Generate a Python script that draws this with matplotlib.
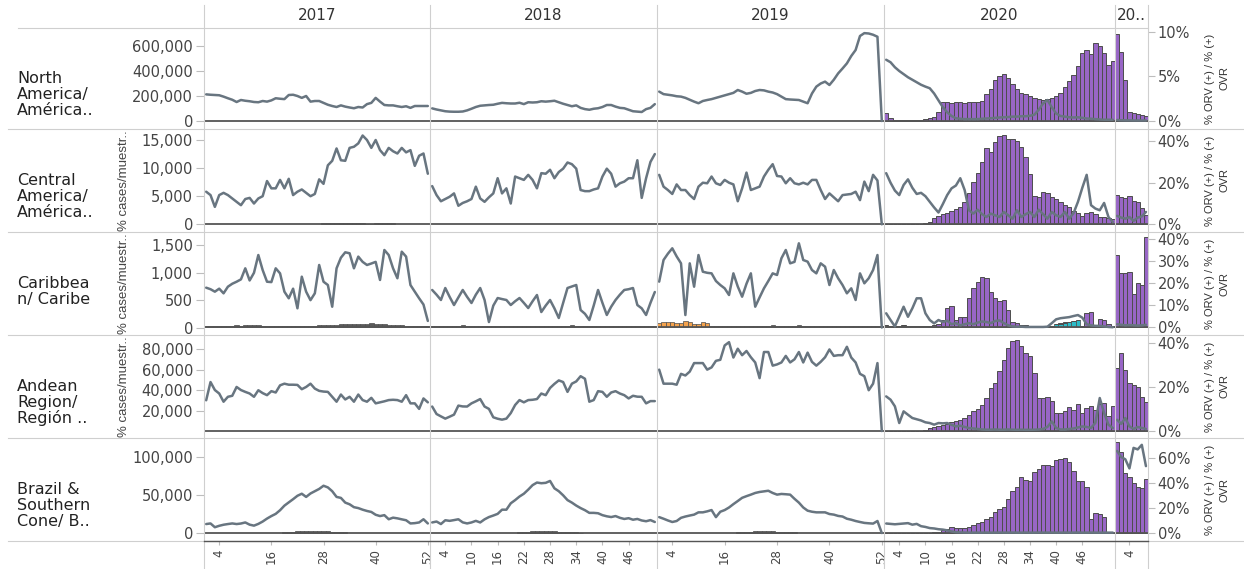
import numpy as np
import matplotlib
matplotlib.use("Agg")
import matplotlib.pyplot as plt
from matplotlib.lines import Line2D
from matplotlib import font_manager

W, H = 1244, 569

YEARS = [2017, 2018, 2019, 2020, 2021]
YEAR_HEADERS = ["2017", "2018", "2019", "2020", "20.."]
REGIONS = ["North\nAmerica/\nAmérica..", "Central\nAmerica/\nAmérica..",
           "Caribbea\nn/ Caribe", "Andean\nRegion/\nRegión ..",
           "Brazil &\nSouthern\nCone/ B.."]
LEFT_TITLE = "% cases/muestr.."
RIGHT_TITLE = "% ORV (+) / % (+)\nOVR"

# weekly line values (left axis); thousands except the Caribbean
north_line_k = {
    2017: [213, 210, 208, 206, 195, 182, 170, 152, 168, 162, 158, 152, 150, 160, 155, 165, 182, 178, 175, 208,
           210, 200, 185, 200, 155, 160, 160, 145, 130, 120, 112, 125, 115, 108, 102, 112, 108, 135, 145, 185,
           155, 128, 125, 125, 118, 112, 118, 105, 120, 120, 120, 120],
    2018: [101, 92, 85, 78, 75, 74, 74, 76, 85, 98, 112, 122, 125, 128, 130, 138, 145, 142, 140, 140,
           146, 135, 150, 148, 150, 158, 155, 158, 162, 150, 138, 128, 118, 125, 105, 95, 90, 98, 102, 112,
           128, 128, 115, 105, 102, 90, 78, 75, 72, 95, 105, 135],
    2019: [235, 215, 210, 205, 198, 195, 185, 170, 155, 142, 160, 168, 175, 185, 195, 205, 215, 225, 248, 235,
           218, 225, 240, 248, 245, 235, 228, 215, 195, 175, 172, 170, 168, 155, 142, 220, 275, 300, 315, 288,
           330, 381, 420, 461, 520, 568, 680, 703, 700, 690, 674, 0],
    2020: [490, 470, 430, 400, 375, 350, 330, 310, 290, 275, 262, 220, 165, 110, 70, 40, 22, 18, 15, 15,
           15, 15, 18, 20, 22, 25, 28, 30, 32, 35, 35, 38, 38, 42, 50, 90, 140, 168, 110, 60,
           40, 35, 30, 28, 30, 25, 20, 18, 15, 12, 10, 10, 10],
    2021: [8, 6, 5, 5, 4, 4, 4, 4],
}
central_line_k = {
    2017: [5.8, 5.2, 3.1, 5.2, 5.6, 5.2, 4.6, 4.0, 3.4, 4.5, 4.7, 3.7, 4.6, 5.0, 7.7, 6.4, 6.4, 7.9, 6.4, 8.1,
           5.2, 5.8, 6.2, 5.6, 5.0, 5.4, 8.0, 7.2, 10.5, 11.3, 13.5, 11.4, 11.3, 13.6, 13.8, 14.4, 15.8, 15.0, 13.6, 15.0,
           13.2, 12.3, 13.6, 13.0, 12.6, 13.6, 12.8, 13.2, 10.4, 12.2, 12.6, 9.0],
    2018: [6.8, 5.2, 4.1, 4.5, 4.9, 5.5, 3.3, 3.8, 4.1, 4.5, 6.7, 4.6, 4.0, 4.8, 5.5, 8.2, 5.5, 6.4, 3.7, 8.5,
           8.2, 7.9, 8.8, 7.9, 6.4, 9.1, 9.0, 9.7, 8.2, 9.3, 9.9, 11.0, 10.7, 9.9, 6.1, 5.9, 5.9, 6.2, 6.4, 8.5,
           9.9, 9.0, 6.7, 7.3, 7.6, 8.2, 8.2, 11.4, 4.7, 8.2, 11.1, 12.5],
    2019: [8.8, 6.7, 6.1, 5.4, 7.1, 6.1, 6.1, 5.2, 4.5, 6.7, 7.4, 7.3, 8.5, 7.3, 7.0, 7.9, 7.4, 7.1, 4.1, 6.4,
           9.2, 6.1, 6.4, 6.7, 8.5, 9.7, 10.7, 8.6, 8.5, 7.3, 8.2, 7.3, 7.1, 7.4, 7.1, 7.9, 7.9, 6.1, 4.5, 5.5,
           4.8, 4.1, 5.2, 5.3, 5.4, 5.8, 4.3, 7.6, 5.9, 8.8, 7.8, 0],
    2020: [9.1, 7.4, 6.0, 5.2, 7.0, 8.0, 6.5, 5.4, 5.6, 5.0, 4.0, 3.0, 2.1, 3.6, 5.2, 6.4, 6.9, 8.2, 6.1, 2.5,
           1.9, 2.6, 1.8, 1.3, 1.9, 1.6, 1.3, 2.2, 1.6, 1.0, 2.5, 1.3, 1.8, 2.2, 1.3, 2.6, 1.8, 1.0, 2.2, 1.6,
           1.3, 2.2, 1.0, 2.0, 4.0, 6.5, 8.8, 3.4, 2.8, 2.5, 3.8, 1.3, 0.4],
    2021: [1.5, 1.2, 1.0, 1.3, 0.6, 1.2, 1.4, 2.2],
}
caribbean_line = {
    2017: [728, 700, 655, 710, 625, 746, 800, 837, 880, 1082, 860, 1000, 1325, 1050, 837, 830, 1082, 990, 655, 534,
           710, 351, 929, 655, 500, 625, 1143, 837, 777, 380, 1082, 1276, 1375, 1357, 1082, 1296, 1200, 1143, 1170, 1200,
           869, 1417, 1325, 1082, 900, 1386, 1296, 777, 655, 534, 420, 120],
    2018: [686, 600, 503, 722, 560, 411, 550, 686, 560, 448, 600, 722, 503, 100, 400, 539, 520, 503, 411, 480,
           539, 450, 356, 480, 594, 283, 400, 503, 350, 174, 450, 722, 750, 777, 320, 250, 137, 400, 686, 450,
           229, 380, 503, 600, 686, 700, 722, 411, 350, 229, 450, 649],
    2019: [838, 1234, 1350, 1448, 1300, 1173, 228, 1173, 746, 1325, 1020, 1000, 990, 850, 777, 716, 594, 990, 750, 563,
           800, 990, 380, 550, 716, 850, 990, 960, 1265, 1417, 1173, 1200, 1539, 1234, 1204, 1051, 990, 1173, 1112, 777,
           1051, 900, 777, 625, 716, 503, 990, 808, 900, 1051, 1325, 0],
    2020: [260, 137, 20, 200, 380, 196, 350, 534, 534, 260, 137, 75, 137, 100, 125, 60, 80, 40, 60, 80,
           60, 90, 110, 100, 80, 120, 130, 80, 40, 20, 15, 15, 10, 10, 10, 10, 10, 15, 80, 150,
           170, 180, 190, 210, 228, 180, 60, 40, 30, 30, 20, 10, 5],
    2021: [60, 50, 40, 45, 40, 35, 40, 50],
}
andean_line_k = {
    2017: [30, 47.8, 40, 36.6, 28.6, 33.4, 34.4, 43, 40, 38.2, 36.6, 33.4, 39.8, 37, 35, 38.9, 37.6, 44.6, 46.2, 45.2,
           45.2, 45, 40.8, 43, 46.2, 41.4, 39.2, 38.5, 38.2, 33.4, 28.6, 35.6, 30.8, 33.4, 28.6, 35.6, 30.2, 28.6, 32.4, 27,
           28, 29, 30.2, 30.5, 30.2, 28.6, 35, 27, 27, 21.6, 31.8, 28],
    2018: [23.9, 16.6, 14.3, 12.1, 14, 16, 24.8, 24, 23.9, 27, 29, 31.2, 23.9, 21.6, 13.4, 12, 11.1, 12.1, 17.5, 25.4,
           30.2, 28, 30.2, 30.5, 31.2, 36.6, 35, 42, 46, 49.4, 47.8, 38.2, 46.2, 48.4, 53.5, 51, 28.6, 30.2, 38.9, 38.2,
           33.4, 37.6, 38.9, 36.6, 35, 31.8, 34.4, 33.5, 33.4, 27, 29.2, 29.2],
    2019: [59.9, 46.2, 46.2, 46.2, 45.2, 55.8, 54.2, 58, 66.3, 66.3, 66.3, 59.9, 62.1, 68.5, 69.5, 83.5, 86.7, 71.7, 80.3, 74,
           78.1, 72, 66.9, 51.6, 77.1, 77.1, 63.8, 65, 66.9, 73.3, 66.9, 70, 77.1, 66.9, 76.5, 67.5, 63.8, 67.5, 72, 79.6,
           73.3, 74, 74, 82.2, 71.7, 66.9, 55.8, 53.5, 39.8, 46.2, 66.3, 0],
    2020: [33.8, 30.6, 24.1, 7.8, 19.2, 15.9, 12.7, 11.5, 10.3, 8.5, 7.8, 6.2, 7.8, 7.5, 7.8, 6.0, 4.5, 5.2, 4.0, 2.9,
           2.5, 2.0, 1.5, 1.3, 1.3, 1.5, 1.3, 1.3, 1.5, 1.3, 1.2, 1.3, 1.2, 1.2, 1.3, 1.5, 2.0, 4.0, 9.4, 3.0,
           1.5, 1.5, 2.0, 2.5, 3.5, 4.5, 4.0, 3.0, 8.0, 32.2, 17.6, 6.2, 2.9],
    2021: [11, 7, 12.7, 4.5, 2, 4, 3, 2],
}
brazil_line_k = {
    2017: [11.8, 12.6, 7.6, 9.5, 10.9, 11.8, 12.6, 11.8, 12.5, 13.9, 11.0, 9.7, 12.0, 15.1, 19.0, 22.3, 25.2, 30.0, 36.0, 40.3,
           44.5, 49.0, 51.7, 47.5, 52.0, 55.0, 58.0, 62.2, 60.0, 55.0, 47.5, 46.2, 40.0, 37.8, 34.0, 32.8, 30.7, 29.0, 27.7, 24.0,
           22.3, 23.5, 18.1, 20.2, 19.3, 18.0, 16.8, 12.6, 13.0, 13.9, 18.1, 12.6],
    2018: [13.9, 15.1, 11.8, 16.8, 16.0, 17.0, 18.1, 14.0, 12.6, 13.9, 16.0, 13.9, 18.0, 21.0, 23.0, 25.2, 30.7, 30.7, 39.1, 43.3,
           48.0, 51.7, 57.1, 63.0, 66.4, 65.5, 66.0, 68.5, 58.8, 55.0, 49.6, 43.3, 40.0, 36.1, 32.8, 30.0, 26.5, 26.5, 26.0, 23.5,
           22.0, 21.0, 22.3, 20.0, 18.5, 19.5, 17.5, 18.5, 16.5, 15.5, 17.0, 14.5],
    2019: [20.9, 18.8, 16.5, 14.5, 15.8, 20.0, 21.7, 23.0, 24.2, 27.2, 27.2, 28.5, 30.2, 20.9, 28.0, 30.2, 33.6, 38.0, 42.1, 46.3,
           48.5, 50.5, 52.7, 54.0, 54.8, 55.6, 52.7, 50.5, 51.4, 51.0, 50.5, 45.0, 40.0, 33.6, 29.4, 28.0, 27.2, 27.2, 27.2, 25.0,
           24.2, 22.5, 21.7, 18.8, 17.5, 15.8, 14.5, 13.3, 12.8, 12.4, 15.8, 0],
    2020: [12.5, 12.0, 11.5, 12.0, 12.5, 13.0, 11.0, 12.0, 9.0, 8.0, 6.5, 6.0, 5.0, 4.5, 3.5, 2.0, 1.0, 0.8, 0.6, 0.5,
           0.5, 0.5, 0.5, 0.6, 0.5, 0.5, 0.6, 0.5, 0.5, 0.6, 0.5, 0.5, 0.6, 0.5, 0.5, 0.6, 0.5, 0.5, 0.6, 0.5,
           0.5, 0.6, 0.5, 0.5, 0.6, 0.5, 0.5, 0.6, 0.5, 0.5, 0.5, 0.5, 0.5],
    2021: [108, 100, 97, 85, 112, 110, 116, 88],
}

# weekly % positive bars (right axis), purple series
north_covid = {
    2020: [0.9, 0.3, 0.1, 0.1, 0.1, 0.1, 0.1, 0.1, 0.1, 0.2, 0.3, 0.5, 1.0, 2.1, 2.1, 2.0, 2.1, 2.1, 2.0, 2.1,
           2.1, 2.1, 2.3, 3.0, 3.6, 4.6, 5.0, 5.3, 4.8, 4.2, 3.6, 3.2, 3.0, 2.8, 2.6, 2.5, 2.4, 2.5, 2.6, 2.8,
           3.2, 3.8, 4.5, 5.2, 6.2, 7.6, 8.0, 7.5, 8.8, 8.4, 7.6, 6.3, 6.7],
    2021: [9.8, 7.8, 4.6, 1.0, 0.9, 0.8, 0.7, 0.6],
}
central_covid = {
    2020: [0, 0, 0, 0, 0, 0, 0, 0, 0, 0.3, 1.1, 2.7, 3.9, 4.7, 5.5, 6.4, 7.1, 8.0, 10.8,
           14.8, 20.4, 24.4, 30.0, 36.5, 34.9, 39.7, 42.4, 42.9, 40.8, 40.8, 40.2, 37.3, 32.5, 24.0, 13.5, 12.9, 15.6, 15.1, 13.2,
           11.9, 10.8, 9.2, 8.0, 6.4, 5.1, 3.9, 5.5, 6.0, 4.8, 3.5, 3.5, 3.0, 2.5],
    2021: [13.8, 13.0, 12.5, 13.5, 11.0, 10.8, 7.6, 4.3],
}
caribbean_covid = {
    2020: [0, 0, 0, 0, 0, 0, 0, 0, 0, 0, 0.5, 1.0, 1.5, 3.2, 8.5, 9.5, 3.2, 4.4, 4.4, 13.0,
           17.6, 20.6, 22.9, 22.1, 16.1, 13.0, 12.0, 12.4, 7.6, 2.4, 1.7, 0.9, 0.8, 0.6, 0.5, 0.5, 0.5, 0.5, 0.5, 0.4,
           0.3, 0.3, 0.3, 0.3, 0.3, 0.3, 6.5, 7.0, 0.9, 3.5, 3.2, 1.4, 0.5],
    2021: [32.7, 24.7, 24.4, 25.0, 15.2, 20.0, 19.0, 41.0],
}
andean_covid = {
    2020: [0, 0, 0, 0, 0, 0, 0, 0, 0, 0.5, 1.4, 1.8, 2.1, 2.7, 3.3, 3.9, 4.4, 5.2, 5.9,
           7.4, 8.9, 10.0, 12.0, 15.0, 19.5, 21.8, 27.1, 32.4, 37.7, 40.7, 41.2, 38.5, 35.5, 33.9, 26.4, 15.0, 15.0, 15.5, 13.5,
           8.2, 8.2, 8.9, 10.9, 9.7, 12.4, 8.2, 10.4, 11.5, 9.4, 12.4, 12.7, 6.7, 11.2],
    2021: [28.6, 35.2, 27.6, 21.8, 21.0, 20.0, 15.5, 13.0],
}
brazil_covid = {
    2020: [0, 0, 0, 0, 0, 0, 0, 0, 0, 0, 0, 0.5, 1.0, 2.4, 3.5, 4.7, 4.0, 3.7, 3.7, 5.0,
           6.5, 7.8, 9.1, 10.9, 13.0, 16.8, 19.4, 20.7, 27.1, 33.4, 36.5, 45.0, 42.4, 41.6, 48.8, 51.4, 54.5, 54.5, 53.5, 58.6,
           59.1, 59.7, 57.1, 49.3, 41.6, 42.0, 36.5, 11.6, 16.0, 14.9, 13.0, 0.5, 0],
    2021: [73, 65, 48, 45, 40, 37, 36, 43],
}

# small bars of other viruses: (first week, values)
central_other = {2017: (28, [0.5, 0.6, 0.6, 0.7, 0.6, 0.6, 0.7, 0.6, 0.5, 0.6, 0, 0, 0.6, 0.7, 0.6, 0.6, 0.5])}
caribbean_other = {
    2017: (1, [0.4, 0.5, 0.6, 0.6, 0.5, 0.6, 0.7, 0.8, 0.6, 0.8, 0.9, 0.8, 0.8, 0.7, 0.6, 0.5, 0.4, 0.3, 0.3, 0.3,
               0.3, 0.3, 0.4, 0.5, 0.6, 0.6, 0.8, 0.8, 0.9, 1.0, 1.1, 1.2, 1.2, 1.3, 1.2, 1.5, 1.3, 1.6, 1.7, 1.4,
               1.3, 1.2, 1.1, 1.0, 0.9, 0.8, 0.6, 0.6, 0.5, 0.5, 0.4, 0.3]),
    2018: (1, [0.6, 0.5, 0.7, 0.6, 0.5, 0.6, 0.7, 0.8, 0.6, 0.5, 0.4, 0.6, 0.7, 0.5, 0.4, 0.5, 0.6, 0.4, 0.5, 0.6,
               0.5, 0.4, 0.6, 0.7, 0.5, 0.4, 0.6, 0.5, 0.4, 0.5, 0.6, 0.7, 0.8, 0.6, 0.5, 0.4, 0.5, 0.6, 0.5, 0.4,
               0.5, 0.6, 0.5, 0.4, 0.6, 0.5, 0.4, 0.5, 0.6, 0.5, 0.4, 0.5]),
    2019: (13, [0.6, 0.7, 0.5, 0.6, 0.4, 0.5, 0.6, 0.4, 0.5, 0.6, 0.5, 0.4, 0.6, 0.7, 0.8, 0.7, 0.6, 0.5, 0.6, 0.7,
                0.8, 0.6, 0.5, 0.4, 0.5, 0.6, 0.7, 0.5, 0.4, 0.5, 0.6, 0.5, 0.4, 0.5, 0.6, 0.5, 0.4, 0.5, 0.4, 0.4]),
    2020: (1, [0.8, 0.6, 0.5, 0.6, 0.8, 0.7, 0.5, 0.6, 0.5, 0.4]),
}
caribbean_orange = {2019: (1, [1.8, 2.2, 2.5, 2.4, 2.0, 1.8, 2.6, 2.2, 1.5, 1.2, 2.4, 2.0])}
caribbean_teal = {2020: (40, [1.2, 1.5, 2.0, 2.2, 2.6, 3.0])}
brazil_other = {
    2017: (19, [0.8, 1.0, 1.2, 1.4, 1.5, 1.6, 1.6, 1.8, 1.8, 1.6, 1.5, 1.2, 1.0, 0.8, 0.6]),
    2018: (21, [0.8, 1.0, 1.2, 1.5, 1.6, 1.8, 1.8, 1.6, 1.5, 1.2, 1.0, 0.8, 0.6, 0.5, 0.4]),
    2019: (19, [0.6, 0.8, 1.0, 1.2, 1.4, 1.5, 1.6, 1.5, 1.4, 1.2, 1.0, 0.8, 0.6, 0.5]),
}

LINES = [north_line_k, central_line_k, caribbean_line, andean_line_k, brazil_line_k]
LINE_UNIT = [1000, 1000, 1, 1000, 1000]
COVID = [north_covid, central_covid, caribbean_covid, andean_covid, brazil_covid]
SMALL = [[], [(central_other, "#5a5a5a")],
         [(caribbean_other, "#5a5a5a"), (caribbean_orange, "#f4a24c"), (caribbean_teal, "#2bbcc8")],
         [], [(brazil_other, "#5a5a5a")]]

LEFT_TICKS = [[0, 200000, 400000, 600000], [0, 5000, 10000, 15000], [0, 500, 1000, 1500],
              [20000, 40000, 60000, 80000], [0, 50000, 100000]]
RIGHT_TICKS = [[0, 5, 10], [0, 20, 40], [0, 10, 20, 30, 40], [0, 20, 40], [0, 20, 40, 60]]
X_TICKS = [[4, 16, 28, 40, 52], [4, 10, 16, 22, 28, 34, 40, 46], [4, 16, 28, 40, 52],
           [4, 10, 16, 22, 28, 34, 40, 46], [4]]

# layout in pixels
COL_X = [204, 430, 657, 884, 1115, 1148]
ROW_Y = [28, 129, 232, 335, 438, 541]
N_WEEKS = [52, 52, 52, 53, 8]
LEFT_LIM = [(-64000, 744000), (-1370, 16960), (-137, 1746), (-6800, 93700), (-10500, 125000)]
RIGHT_LIM = [(-0.9, 10.45), (-3.86, 45.8), (-3.6, 43.2), (-3.2, 43.6), (-6.4, 76)]

LINE_C = "#687580"
PURPLE = "#9866c6"
EDGE = "#4d4d4d"
GRID = "#cfcfcf"
TXT = "#444444"


def rect(x0, y0, x1, y1):
    return [x0 / W, 1 - y1 / H, (x1 - x0) / W, (y1 - y0) / H]


def fig_line(fig, x0, y0, x1, y1, color=GRID, lw=0.8):
    fig.add_artist(Line2D([x0 / W, x1 / W], [1 - y0 / H, 1 - y1 / H],
                          transform=fig.transFigure, color=color, lw=lw))


def narrow_font():
    names = {f.name for f in font_manager.fontManager.ttflist}
    if "Liberation Sans Narrow" in names:
        return "Liberation Sans Narrow", 9
    return "Liberation Sans", 8


def main():
    plt.rcParams["font.family"] = ["DejaVu Sans"]
    fig = plt.figure(figsize=(W / 100, H / 100), dpi=100)

    # grid lines
    for y in ROW_Y[1:]:
        fig_line(fig, 8, y, W, y)
    fig_line(fig, 18, ROW_Y[0], COL_X[-1], ROW_Y[0])
    for x in COL_X:
        fig_line(fig, x, 5, x, H)

    for r in range(5):
        for c, year in enumerate(YEARS):
            axb = fig.add_axes(rect(COL_X[c], ROW_Y[r], COL_X[c + 1], ROW_Y[r + 1]))
            axl = axb.twinx()
            n = N_WEEKS[c]
            for a in (axb, axl):
                a.set_xlim(0.5, n + 0.5)
                a.patch.set_visible(False)
                for s in a.spines.values():
                    s.set_visible(False)
                a.tick_params(left=False, right=False, bottom=False, top=False,
                              labelleft=False, labelright=False, labelbottom=False)
            axb.set_ylim(RIGHT_LIM[r])
            axl.set_ylim(LEFT_LIM[r])

            # bars on the right-hand (%) scale
            base = np.zeros(n)
            for series, color in SMALL[r]:
                if year in series:
                    start, vals = series[year]
                    wk = np.arange(start, start + len(vals))
                    axb.bar(wk, vals, width=1.0, bottom=base[wk - 1], color=color,
                            edgecolor=EDGE, linewidth=0.5)
                    base[wk - 1] += np.array(vals)
            if year in COVID[r]:
                vals = COVID[r][year]
                wk = np.arange(1, len(vals) + 1)
                axb.bar(wk, vals, width=1.0, bottom=base[:len(vals)], color=PURPLE,
                        edgecolor=EDGE, linewidth=0.7)
            axb.axhline(0, color="#555555", lw=1.3, zorder=3)

            # line on the left-hand scale
            vals = np.array(LINES[r][year]) * LINE_UNIT[r]
            axl.plot(np.arange(1, len(vals) + 1), vals, color=LINE_C, lw=1.8,
                     solid_joinstyle="round", solid_capstyle="round")

            if c == 0:
                axl.yaxis.set_ticks_position("left")
                axl.set_yticks(LEFT_TICKS[r])
                axl.set_yticklabels([f"{v:,.0f}" for v in LEFT_TICKS[r]])
                axl.tick_params(axis="y", left=True, labelleft=True, length=6, width=0.8,
                                color="#bdbdbd", labelcolor=TXT, labelsize=10.5, pad=2)
            if c == 4:
                axb.yaxis.set_ticks_position("right")
                axb.set_yticks(RIGHT_TICKS[r])
                axb.set_yticklabels([f"{v}%" for v in RIGHT_TICKS[r]])
                axb.tick_params(axis="y", right=True, labelright=True, length=5, width=0.8,
                                color="#bdbdbd", labelcolor=TXT, labelsize=10.5, pad=2)
            if r == 4:
                axb.set_xticks(X_TICKS[c])
                axb.set_xticklabels([str(v) for v in X_TICKS[c]], rotation=90)
                axb.tick_params(axis="x", bottom=True, labelbottom=True, length=3, width=0.8,
                                color="#bdbdbd", labelcolor=TXT, labelsize=8.5, pad=3)

    # x axis line under the bottom row
    fig_line(fig, COL_X[0], ROW_Y[-1], COL_X[-1], ROW_Y[-1], color="#555555", lw=1.0)

    # headers
    for c, label in enumerate(YEAR_HEADERS):
        if c < 4:
            fig.text((COL_X[c] + COL_X[c + 1]) / 2 / W, 1 - 16 / H, label, ha="center",
                     va="center", fontsize=11, color="#333333")
        else:
            fig.text((COL_X[c] + 2) / W, 1 - 16 / H, label, ha="left",
                     va="center", fontsize=11, color="#333333")

    nfam, nsize = narrow_font()
    for r, name in enumerate(REGIONS):
        yc = (ROW_Y[r] + ROW_Y[r + 1]) / 2
        for i, part in enumerate(name.split("\n")):
            fig.text(17 / W, 1 - (yc + i * 16) / H, part, ha="left", va="center",
                     fontsize=11.5, color="#222222")
        fig.text(1217 / W, 1 - yc / H, RIGHT_TITLE, rotation=90, ha="center", va="center",
                 multialignment="center", fontsize=nsize, color="#333333", linespacing=1.6,
                 family=nfam)
        if r in (1, 2, 3):
            fig.text(124 / W, 1 - yc / H, LEFT_TITLE, rotation=90, ha="center", va="center",
                     fontsize=9.5, color=TXT, family="Liberation Sans")

    fig.savefig("out.png", dpi=100)


if __name__ == "__main__":
    main()
